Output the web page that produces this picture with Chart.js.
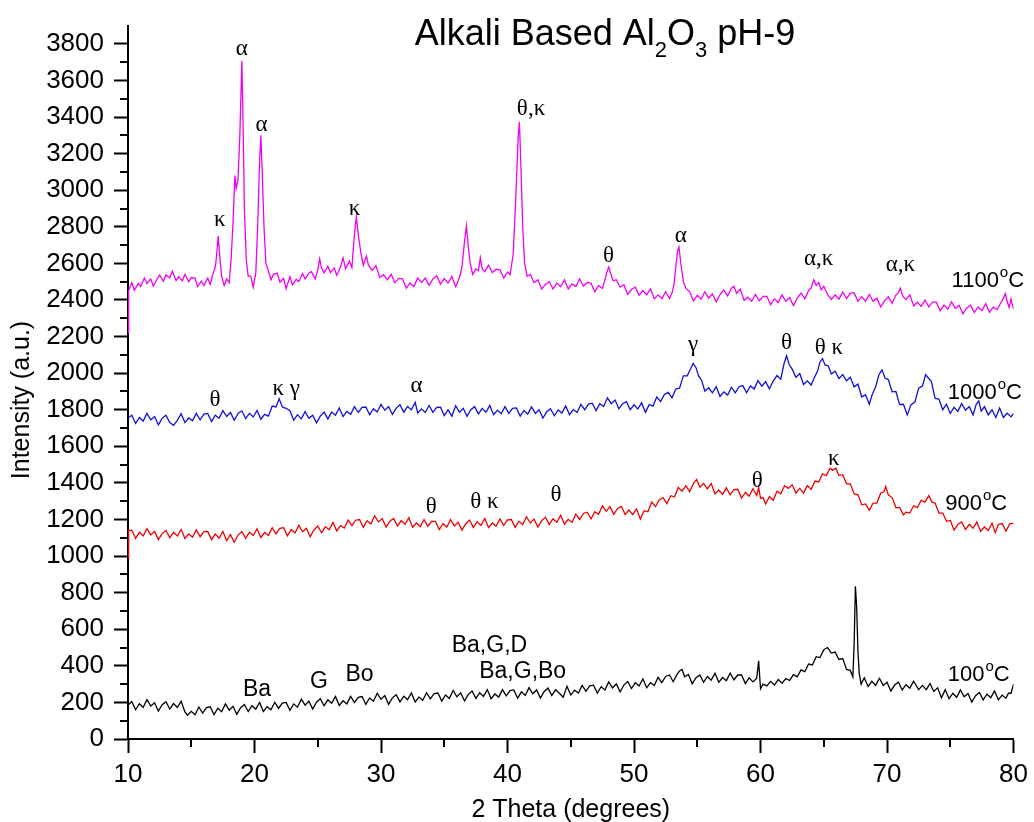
<!DOCTYPE html>
<html>
<head>
<meta charset="utf-8">
<title>Alkali Based Al2O3 pH-9</title>
<script src="https://cdn.jsdelivr.net/npm/chart.js@4.4.1/dist/chart.umd.min.js"></script>
<style>
  html, body { margin: 0; padding: 0; background: #fff; }
  #wrap { width: 1034px; height: 822px; }
</style>
</head>
<body>
<div id="wrap"><canvas id="xrd" width="1034" height="822"></canvas></div>
<script>
// XRD patterns, 2 theta (degrees) vs intensity (a.u.)

const xTicks = [10, 20, 30, 40, 50, 60, 70, 80];
const xMinorTicks = [15, 25, 35, 45, 55, 65, 75];
const yTicks = [0, 200, 400, 600, 800, 1000, 1200, 1400, 1600, 1800, 2000, 2200, 2400, 2600, 2800, 3000, 3200, 3400, 3600, 3800];
const yMinorTicks = [100, 300, 500, 700, 900, 1100, 1300, 1500, 1700, 1900, 2100, 2300, 2500, 2700, 2900, 3100, 3300, 3500, 3700];

const seriesLabels = ['1100', '1000', '900', '100'];
const seriesColors = ['#f000f0', '#1010d8', '#ee0000', '#000000'];

// [2 theta, intensity]
const pattern1100 = [
  [10.0, 2220], [10.05, 2450], [10.3, 2495], [10.5, 2453], [10.8, 2490], [11.0, 2473], [11.3, 2520], [11.5, 2490],
  [11.8, 2515], [12.0, 2475], [12.3, 2515], [12.5, 2537], [12.8, 2502], [13.0, 2537], [13.3, 2520], [13.5, 2558],
  [13.8, 2506], [14.0, 2528], [14.3, 2505], [14.5, 2540], [14.8, 2500], [15.0, 2523], [15.3, 2520], [15.5, 2473],
  [15.8, 2503], [16.0, 2480], [16.3, 2520], [16.5, 2485], [16.7, 2540], [16.9, 2580], [17.0, 2640], [17.13, 2750],
  [17.25, 2640], [17.4, 2530], [17.6, 2480], [17.8, 2515], [18.0, 2495], [18.15, 2620], [18.3, 2820], [18.45, 3080],
  [18.55, 3010], [18.7, 3060], [18.85, 3320], [19.0, 3707], [19.1, 3350], [19.2, 2900], [19.35, 2620], [19.5, 2530],
  [19.7, 2530], [19.9, 2470], [20.1, 2545], [20.25, 2800], [20.4, 3150], [20.5, 3300], [20.6, 3120], [20.75, 2800],
  [20.9, 2600], [21.1, 2560], [21.3, 2510], [21.5, 2540], [21.8, 2547], [22.0, 2497], [22.3, 2517], [22.5, 2462],
  [22.8, 2528], [23.0, 2483], [23.3, 2513], [23.5, 2500], [23.8, 2545], [24.0, 2515], [24.3, 2548], [24.5, 2555],
  [24.8, 2515], [25.0, 2563], [25.15, 2625], [25.3, 2575], [25.5, 2548], [25.8, 2585], [26.0, 2550], [26.3, 2575],
  [26.5, 2535], [26.8, 2580], [27.0, 2630], [27.2, 2570], [27.5, 2612], [27.7, 2577], [27.9, 2760], [28.05, 2855],
  [28.2, 2760], [28.4, 2660], [28.6, 2590], [28.85, 2640], [29.0, 2592], [29.3, 2562], [29.6, 2588], [29.9, 2523],
  [30.2, 2538], [30.5, 2510], [30.8, 2540], [31.1, 2495], [31.4, 2518], [31.7, 2515], [32.0, 2465], [32.3, 2493],
  [32.6, 2473], [32.9, 2520], [33.2, 2495], [33.5, 2520], [33.8, 2480], [34.1, 2515], [34.4, 2532], [34.7, 2487],
  [35.0, 2517], [35.3, 2492], [35.6, 2528], [35.9, 2473], [36.2, 2523], [36.4, 2580], [36.6, 2720], [36.75, 2805],
  [36.9, 2690], [37.05, 2600], [37.25, 2540], [37.5, 2570], [37.7, 2560], [37.85, 2630], [38.0, 2570], [38.2, 2555],
  [38.5, 2590], [38.8, 2550], [39.1, 2568], [39.4, 2565], [39.7, 2520], [40.0, 2553], [40.2, 2538], [40.45, 2650],
  [40.65, 2950], [40.85, 3300], [40.94, 3373], [41.05, 3150], [41.2, 2800], [41.35, 2600], [41.55, 2530], [41.8, 2540],
  [42.1, 2495], [42.4, 2510], [42.7, 2460], [43.0, 2485], [43.3, 2500], [43.6, 2460], [43.9, 2492], [44.2, 2472],
  [44.5, 2510], [44.8, 2460], [45.1, 2488], [45.4, 2473], [45.7, 2515], [46.0, 2475], [46.3, 2496], [46.6, 2492],
  [46.9, 2445], [47.2, 2478], [47.5, 2463], [47.7, 2510], [47.85, 2550], [48.0, 2580], [48.15, 2545], [48.35, 2505],
  [48.6, 2510], [48.9, 2470], [49.2, 2483], [49.5, 2430], [49.8, 2457], [50.1, 2470], [50.4, 2426], [50.7, 2452],
  [51.0, 2428], [51.3, 2460], [51.6, 2406], [51.9, 2428], [52.2, 2407], [52.5, 2445], [52.8, 2408], [53.0, 2438],
  [53.15, 2480], [53.3, 2580], [53.45, 2670], [53.55, 2690], [53.7, 2600], [53.9, 2500], [54.1, 2465], [54.4, 2445],
  [54.7, 2395], [55.0, 2426], [55.3, 2404], [55.6, 2445], [55.9, 2410], [56.2, 2433], [56.5, 2390], [56.8, 2430],
  [57.1, 2454], [57.4, 2422], [57.7, 2464], [57.9, 2475], [58.1, 2437], [58.4, 2460], [58.7, 2398], [59.0, 2415],
  [59.3, 2393], [59.6, 2430], [59.9, 2395], [60.2, 2420], [60.5, 2420], [60.8, 2375], [61.1, 2406], [61.4, 2386],
  [61.7, 2428], [62.0, 2393], [62.3, 2413], [62.6, 2370], [62.9, 2410], [63.2, 2437], [63.5, 2407], [63.8, 2452],
  [64.0, 2465], [64.2, 2510], [64.4, 2480], [64.6, 2495], [64.8, 2455], [65.0, 2475], [65.3, 2430], [65.6, 2403],
  [65.9, 2428], [66.2, 2405], [66.5, 2443], [66.8, 2408], [67.1, 2438], [67.4, 2440], [67.7, 2393], [68.0, 2418],
  [68.3, 2393], [68.6, 2430], [68.9, 2393], [69.2, 2410], [69.5, 2362], [69.8, 2395], [70.1, 2417], [70.4, 2382],
  [70.7, 2427], [70.9, 2440], [71.05, 2465], [71.25, 2420], [71.5, 2402], [71.8, 2428], [72.1, 2368], [72.4, 2388],
  [72.7, 2365], [73.0, 2400], [73.3, 2362], [73.6, 2388], [73.9, 2388], [74.2, 2341], [74.5, 2372], [74.8, 2350],
  [75.1, 2390], [75.4, 2353], [75.7, 2371], [76.0, 2324], [76.3, 2357], [76.6, 2372], [76.9, 2332], [77.2, 2362],
  [77.5, 2342], [77.8, 2380], [78.1, 2333], [78.4, 2361], [78.7, 2347], [79.0, 2385], [79.2, 2410], [79.35, 2435],
  [79.5, 2390], [79.65, 2360], [79.8, 2405], [80.0, 2350]
];

const pattern1000 = [
  [10.0, 1755], [10.3, 1770], [10.6, 1725], [10.9, 1758], [11.2, 1738], [11.5, 1780], [11.8, 1745], [12.1, 1763],
  [12.4, 1718], [12.7, 1753], [13.0, 1770], [13.3, 1730], [13.6, 1715], [13.9, 1742], [14.2, 1778], [14.5, 1730],
  [14.8, 1755], [15.1, 1740], [15.4, 1780], [15.7, 1745], [16.0, 1776], [16.3, 1780], [16.6, 1735], [16.9, 1770],
  [17.2, 1753], [17.5, 1795], [17.8, 1763], [18.1, 1785], [18.4, 1742], [18.7, 1780], [19.0, 1794], [19.3, 1752],
  [19.6, 1780], [19.9, 1760], [20.2, 1796], [20.5, 1748], [20.8, 1775], [21.1, 1765], [21.4, 1820], [21.7, 1815],
  [21.95, 1860], [22.2, 1815], [22.5, 1808], [22.8, 1795], [23.1, 1743], [23.4, 1773], [23.7, 1750], [24.0, 1790],
  [24.3, 1753], [24.6, 1770], [24.9, 1728], [25.2, 1765], [25.5, 1787], [25.8, 1750], [26.1, 1787], [26.4, 1770],
  [26.7, 1810], [27.0, 1763], [27.3, 1791], [27.6, 1775], [27.9, 1817], [28.2, 1785], [28.5, 1813], [28.8, 1815],
  [29.1, 1773], [29.4, 1806], [29.7, 1788], [30.0, 1830], [30.3, 1797], [30.6, 1817], [30.9, 1774], [31.2, 1809],
  [31.5, 1827], [31.8, 1787], [32.1, 1818], [32.4, 1800], [32.7, 1840], [32.9, 1783], [33.2, 1805], [33.5, 1785],
  [33.8, 1823], [34.1, 1786], [34.4, 1813], [34.7, 1814], [35.0, 1768], [35.3, 1800], [35.6, 1765], [35.9, 1822],
  [36.2, 1787], [36.5, 1808], [36.8, 1764], [37.1, 1800], [37.4, 1817], [37.7, 1777], [38.0, 1807], [38.3, 1787],
  [38.6, 1823], [38.9, 1773], [39.2, 1798], [39.5, 1778], [39.8, 1817], [40.1, 1780], [40.4, 1808], [40.7, 1810],
  [41.0, 1765], [41.3, 1796], [41.6, 1776], [41.9, 1816], [42.2, 1780], [42.5, 1800], [42.8, 1754], [43.1, 1789],
  [43.4, 1806], [43.7, 1767], [44.0, 1799], [44.3, 1782], [44.6, 1820], [44.9, 1773], [45.2, 1801], [45.5, 1785],
  [45.8, 1830], [46.1, 1800], [46.4, 1831], [46.7, 1836], [47.0, 1795], [47.3, 1833], [47.6, 1818], [47.9, 1865],
  [48.2, 1833], [48.5, 1853], [48.8, 1805], [49.1, 1833], [49.4, 1844], [49.7, 1800], [50.0, 1827], [50.3, 1804],
  [50.6, 1838], [50.9, 1786], [51.2, 1828], [51.5, 1820], [51.8, 1870], [52.1, 1845], [52.4, 1883], [52.7, 1895],
  [53.0, 1865], [53.3, 1913], [53.6, 1918], [53.9, 1985], [54.2, 1985], [54.45, 2020], [54.67, 2054], [54.9, 2030],
  [55.1, 1985], [55.35, 1960], [55.6, 1902], [55.9, 1920], [56.2, 1892], [56.5, 1926], [56.8, 1873], [57.1, 1898],
  [57.4, 1880], [57.7, 1923], [58.0, 1892], [58.3, 1926], [58.6, 1932], [58.9, 1893], [59.2, 1930], [59.5, 1914],
  [59.8, 1960], [60.1, 1929], [60.4, 1953], [60.7, 1914], [61.0, 1957], [61.3, 1987], [61.6, 1967], [61.85, 2050],
  [62.06, 2095], [62.25, 2050], [62.5, 2022], [62.8, 1977], [63.1, 1998], [63.4, 1938], [63.7, 1958], [64.0, 1935],
  [64.25, 1975], [64.5, 2010], [64.7, 2060], [64.9, 2080], [65.1, 2045], [65.35, 2040], [65.6, 1995], [65.9, 2010],
  [66.2, 1970], [66.5, 1992], [66.8, 1958], [67.1, 1978], [67.4, 1925], [67.7, 1940], [68.0, 1870], [68.3, 1882],
  [68.6, 1830], [68.8, 1878], [69.1, 1925], [69.35, 1990], [69.6, 2018], [69.85, 1972], [70.1, 1965], [70.4, 1898],
  [70.7, 1900], [71.0, 1828], [71.3, 1830], [71.6, 1772], [71.9, 1828], [72.2, 1842], [72.5, 1918], [72.8, 1930],
  [73.05, 1992], [73.25, 1975], [73.5, 1955], [73.8, 1862], [74.1, 1858], [74.4, 1800], [74.7, 1830], [75.0, 1780],
  [75.3, 1813], [75.6, 1791], [75.9, 1833], [76.2, 1797], [76.5, 1817], [76.8, 1772], [77.05, 1830], [77.25, 1848],
  [77.45, 1792], [77.7, 1817], [78.0, 1772], [78.3, 1800], [78.6, 1758], [78.9, 1810], [79.2, 1758], [79.5, 1781],
  [79.8, 1761], [80.0, 1780]
];

const pattern900 = [
  [10.0, 990], [10.05, 1140], [10.3, 1142], [10.6, 1097], [10.9, 1130], [11.2, 1110], [11.5, 1150], [11.8, 1115],
  [12.1, 1135], [12.4, 1090], [12.7, 1123], [13.0, 1140], [13.3, 1100], [13.6, 1130], [13.9, 1110], [14.2, 1146],
  [14.5, 1096], [14.8, 1121], [15.1, 1103], [15.4, 1143], [15.7, 1106], [16.0, 1134], [16.3, 1135], [16.6, 1090],
  [16.9, 1120], [17.2, 1098], [17.5, 1135], [17.8, 1085], [18.1, 1117], [18.4, 1075], [18.7, 1115], [19.0, 1134],
  [19.3, 1097], [19.6, 1130], [19.9, 1112], [20.2, 1150], [20.5, 1102], [20.8, 1129], [21.1, 1113], [21.4, 1155],
  [21.7, 1122], [22.0, 1152], [22.3, 1155], [22.6, 1111], [22.9, 1145], [23.2, 1126], [23.5, 1168], [23.8, 1133],
  [24.1, 1152], [24.4, 1106], [24.7, 1143], [25.0, 1164], [25.3, 1127], [25.6, 1160], [25.9, 1144], [26.2, 1184],
  [26.5, 1138], [26.8, 1167], [27.1, 1153], [27.4, 1197], [27.7, 1166], [28.0, 1196], [28.3, 1200], [28.6, 1157],
  [28.9, 1193], [29.2, 1176], [29.5, 1220], [29.8, 1187], [30.1, 1205], [30.4, 1158], [30.7, 1190], [31.0, 1205],
  [31.3, 1164], [31.6, 1194], [31.9, 1174], [32.2, 1210], [32.5, 1158], [32.8, 1181], [33.1, 1161], [33.4, 1200],
  [33.7, 1163], [34.0, 1190], [34.3, 1190], [34.6, 1145], [34.9, 1178], [35.2, 1158], [35.5, 1200], [35.8, 1165],
  [36.1, 1185], [36.4, 1142], [36.7, 1177], [37.0, 1197], [37.3, 1157], [37.6, 1188], [37.9, 1168], [38.2, 1206],
  [38.5, 1156], [38.8, 1181], [39.1, 1163], [39.4, 1203], [39.7, 1168], [40.0, 1198], [40.3, 1200], [40.6, 1157],
  [40.9, 1191], [41.2, 1172], [41.5, 1215], [41.8, 1181], [42.1, 1202], [42.4, 1158], [42.7, 1194], [43.0, 1212],
  [43.3, 1173], [43.6, 1204], [43.9, 1185], [44.2, 1223], [44.5, 1174], [44.8, 1201], [45.1, 1185], [45.4, 1230],
  [45.7, 1200], [46.0, 1233], [46.3, 1240], [46.6, 1203], [46.9, 1242], [47.2, 1228], [47.5, 1275], [47.8, 1245],
  [48.1, 1270], [48.4, 1228], [48.7, 1260], [49.0, 1272], [49.3, 1227], [49.6, 1252], [49.9, 1227], [50.2, 1258],
  [50.5, 1203], [50.8, 1248], [51.1, 1243], [51.4, 1295], [51.7, 1270], [52.0, 1308], [52.3, 1320], [52.6, 1287],
  [52.9, 1330], [53.2, 1323], [53.5, 1375], [53.8, 1355], [54.1, 1385], [54.4, 1352], [54.7, 1397], [54.95, 1418],
  [55.2, 1377], [55.5, 1397], [55.8, 1367], [56.1, 1396], [56.4, 1340], [56.7, 1361], [57.0, 1337], [57.3, 1373],
  [57.6, 1335], [57.9, 1363], [58.2, 1365], [58.5, 1317], [58.8, 1348], [59.1, 1328], [59.4, 1368], [59.7, 1331],
  [59.85, 1375], [60.0, 1315], [60.2, 1320], [60.4, 1285], [60.7, 1325], [61.0, 1305], [61.3, 1355], [61.6, 1340],
  [61.9, 1385], [62.2, 1370], [62.5, 1390], [62.8, 1345], [63.1, 1370], [63.4, 1345], [63.7, 1385], [64.0, 1365],
  [64.3, 1410], [64.6, 1405], [64.9, 1450], [65.2, 1440], [65.5, 1480], [65.7, 1470], [65.95, 1480], [66.2, 1440],
  [66.5, 1445], [66.8, 1395], [67.1, 1395], [67.4, 1340], [67.7, 1335], [68.0, 1280], [68.3, 1285], [68.6, 1250],
  [68.9, 1290], [69.2, 1290], [69.5, 1345], [69.75, 1350], [69.9, 1380], [70.1, 1335], [70.4, 1320], [70.7, 1265],
  [71.0, 1265], [71.3, 1225], [71.5, 1240], [71.8, 1235], [72.1, 1275], [72.4, 1265], [72.7, 1305], [73.0, 1295],
  [73.3, 1330], [73.55, 1295], [73.8, 1290], [74.1, 1235], [74.4, 1235], [74.7, 1190], [75.0, 1195], [75.3, 1142],
  [75.6, 1173], [75.9, 1187], [76.2, 1145], [76.5, 1174], [76.8, 1152], [77.1, 1186], [77.4, 1135], [77.7, 1159],
  [78.0, 1140], [78.3, 1180], [78.55, 1128], [78.8, 1173], [79.1, 1178], [79.4, 1137], [79.7, 1176], [80.0, 1180]
];

const pattern100 = [
  [10.0, 185], [10.3, 205], [10.6, 160], [10.9, 193], [11.2, 173], [11.5, 215], [11.8, 180], [12.1, 198],
  [12.4, 152], [12.7, 187], [13.0, 204], [13.3, 164], [13.6, 194], [13.9, 172], [14.2, 206], [14.5, 148],
  [14.7, 130], [15.0, 151], [15.3, 133], [15.6, 175], [15.9, 142], [16.2, 172], [16.5, 176], [16.8, 133],
  [17.1, 168], [17.4, 149], [17.7, 192], [18.0, 158], [18.3, 179], [18.6, 135], [18.9, 171], [19.2, 189],
  [19.5, 150], [19.8, 182], [20.1, 163], [20.4, 200], [20.7, 151], [21.0, 177], [21.3, 160], [21.6, 201],
  [21.9, 167], [22.2, 196], [22.5, 200], [22.8, 157], [23.1, 192], [23.4, 174], [23.7, 218], [24.0, 185],
  [24.3, 207], [24.6, 164], [24.9, 201], [25.2, 220], [25.5, 182], [25.8, 214], [26.1, 195], [26.4, 232],
  [26.7, 183], [27.0, 209], [27.3, 192], [27.6, 233], [27.9, 199], [28.2, 228], [28.5, 232], [28.8, 189],
  [29.1, 224], [29.4, 206], [29.7, 250], [30.0, 217], [30.3, 237], [30.6, 190], [30.9, 225], [31.2, 242],
  [31.5, 203], [31.8, 234], [32.1, 215], [32.4, 252], [32.7, 203], [33.0, 229], [33.3, 212], [33.6, 253],
  [33.9, 219], [34.2, 248], [34.5, 251], [34.8, 207], [35.1, 241], [35.4, 222], [35.7, 265], [36.0, 231],
  [36.3, 252], [36.6, 208], [36.9, 244], [37.2, 262], [37.5, 222], [37.8, 253], [38.1, 233], [38.4, 270],
  [38.7, 220], [39.0, 246], [39.3, 229], [39.6, 270], [39.9, 236], [40.2, 265], [40.5, 268], [40.8, 224],
  [41.1, 258], [41.4, 238], [41.7, 281], [42.0, 247], [42.3, 268], [42.6, 224], [42.9, 260], [43.2, 278],
  [43.5, 238], [43.8, 269], [44.1, 250], [44.4, 228], [44.7, 288], [45.0, 240], [45.3, 267], [45.6, 251],
  [45.9, 293], [46.2, 260], [46.5, 290], [46.8, 294], [47.1, 251], [47.4, 286], [47.7, 268], [48.0, 312],
  [48.3, 279], [48.6, 301], [48.9, 258], [49.2, 295], [49.5, 314], [49.8, 276], [50.1, 308], [50.4, 290],
  [50.7, 328], [51.0, 280], [51.3, 308], [51.6, 293], [51.9, 337], [52.2, 308], [52.5, 342], [52.8, 350],
  [53.1, 313], [53.4, 353], [53.6, 372], [53.8, 380], [54.0, 340], [54.3, 353], [54.6, 302], [54.9, 335],
  [55.2, 350], [55.5, 310], [55.8, 342], [56.1, 322], [56.4, 360], [56.7, 310], [57.0, 336], [57.3, 319],
  [57.6, 360], [57.9, 324], [58.2, 350], [58.5, 350], [58.8, 303], [59.1, 334], [59.4, 312], [59.7, 332],
  [59.85, 428], [60.0, 275], [60.2, 300], [60.5, 290], [60.8, 315], [61.1, 295], [61.4, 325], [61.7, 305],
  [62.0, 330], [62.3, 320], [62.6, 352], [62.9, 340], [63.2, 378], [63.5, 368], [63.8, 410], [64.1, 405],
  [64.4, 450], [64.7, 445], [65.0, 488], [65.3, 500], [65.6, 470], [65.9, 475], [66.2, 435], [66.5, 440],
  [66.8, 380], [67.1, 375], [67.3, 340], [67.4, 520], [67.5, 835], [67.6, 720], [67.7, 480], [67.8, 360],
  [67.95, 300], [68.2, 335], [68.5, 287], [68.8, 316], [69.1, 293], [69.4, 332], [69.7, 293], [70.0, 310],
  [70.3, 262], [70.6, 295], [70.9, 310], [71.2, 268], [71.5, 297], [71.8, 278], [72.1, 316], [72.5, 270],
  [72.8, 293], [73.1, 270], [73.4, 303], [73.7, 260], [74.0, 280], [74.3, 225], [74.6, 270], [74.9, 220],
  [75.2, 250], [75.5, 228], [75.8, 268], [76.1, 231], [76.4, 249], [76.7, 202], [77.0, 237], [77.3, 254],
  [77.6, 214], [77.9, 245], [78.2, 226], [78.5, 263], [78.8, 214], [79.1, 240], [79.4, 223], [79.6, 250],
  [79.8, 250], [80.0, 300]
];

const patterns = [pattern1100, pattern1000, pattern900, pattern100];

// phase labels: text, 2 theta, intensity
const peakLabels = [
  ['α', 19.0, 3771], ['κ', 17.26, 2840], ['α', 20.55, 3355], ['κ', 27.9, 2900],
  ['θ,κ', 41.86, 3447], ['θ', 47.98, 2641], ['α', 53.7, 2750], ['α,κ', 64.6, 2623], ['α,κ', 71.06, 2593],
  ['θ', 16.87, 1855], ['κ γ', 22.5, 1913], ['α', 32.8, 1928], ['γ', 54.67, 2153], ['θ', 62.06, 2163], ['θ κ', 65.4, 2136],
  ['θ', 33.97, 1268], ['θ κ', 38.17, 1295], ['θ', 43.83, 1332], ['θ', 59.74, 1413], ['κ', 65.8, 1530],
  ['Ba', 20.2, 269], ['G', 25.1, 311], ['Bo', 28.3, 352], ['Ba,G,D', 38.57, 509], ['Ba,G,Bo', 41.2, 370]
];

// temperature labels: 2 theta of left edge, intensity of middle
const tempAngles = [75.1, 74.8, 74.6, 74.8];
const tempIntensities = [2515, 1902, 1295, 363];

const SANS = '"Liberation Sans", Arial, Helvetica, sans-serif';
const SERIF = '"Liberation Serif", "Times New Roman", serif';

Chart.defaults.font.family = SANS;
Chart.defaults.color = '#000';

// minor ticks, titles and labels
const decorations = {
  id: 'decorations',
  afterDraw(chart) {
    const ctx = chart.ctx;
    const xs = chart.scales.x;
    const ys = chart.scales.y;
    const area = chart.chartArea;
    ctx.save();

    // minor ticks
    ctx.strokeStyle = '#000';
    ctx.lineWidth = 2;
    ctx.beginPath();
    yMinorTicks.forEach(v => {
      const py = Math.round(ys.getPixelForValue(v));
      ctx.moveTo(area.left - 8, py);
      ctx.lineTo(area.left, py);
    });
    xMinorTicks.forEach(v => {
      const px = Math.round(xs.getPixelForValue(v));
      ctx.moveTo(px, area.bottom);
      ctx.lineTo(px, area.bottom + 8);
    });
    ctx.stroke();

    ctx.fillStyle = '#000';

    // phase labels
    ctx.textAlign = 'center';
    ctx.textBaseline = 'middle';
    peakLabels.forEach(([t, a, v]) => {
      ctx.font = /[α-ω]/.test(t) ? '23px ' + SERIF : '23px ' + SANS;
      ctx.fillText(t, xs.getPixelForValue(a), ys.getPixelForValue(v));
    });

    // temperature labels with superscript o
    ctx.textAlign = 'left';
    ctx.textBaseline = 'alphabetic';
    seriesLabels.forEach((t, i) => {
      let px = xs.getPixelForValue(tempAngles[i]);
      const base = ys.getPixelForValue(tempIntensities[i]) + 8;
      ctx.font = '22px ' + SANS;
      ctx.fillText(t, px, base);
      px += ctx.measureText(t).width + 1;
      ctx.font = '15px ' + SANS;
      ctx.fillText('o', px, base - 10);
      px += ctx.measureText('o').width;
      ctx.font = '22px ' + SANS;
      ctx.fillText('C', px, base);
    });

    // chart title with subscripts
    const parts = [['Alkali Based Al', 0], ['2', 1], ['O', 0], ['3', 1], [' pH-9', 0]];
    const big = '36px ' + SANS;
    const small = '22px ' + SANS;
    let total = 0;
    parts.forEach(([t, sub]) => { ctx.font = sub ? small : big; total += ctx.measureText(t).width; });
    let tx = 605 - total / 2;
    parts.forEach(([t, sub]) => {
      ctx.font = sub ? small : big;
      ctx.fillText(t, tx, sub ? 57 : 45);
      tx += ctx.measureText(t).width;
    });

    // axis titles
    ctx.font = '25px ' + SANS;
    ctx.textAlign = 'center';
    ctx.fillText('2 Theta (degrees)', (area.left + area.right) / 2, 817);
    ctx.translate(22, 400);
    ctx.rotate(-Math.PI / 2);
    ctx.textBaseline = 'middle';
    ctx.fillText('Intensity (a.u.)', 0, 0);

    ctx.restore();
  }
};

const ctx = document.getElementById('xrd').getContext('2d');
const datasets = patterns.map((p, i) => ({
  label: seriesLabels[i] + '°C',
  data: p.map(([a, v]) => ({ x: a, y: v })),
  borderColor: seriesColors[i],
  borderWidth: 1.3,
  pointRadius: 0,
  fill: false,
  tension: 0
}));

new Chart(ctx, {
  type: 'line',
  data: { datasets: datasets },
  options: {
    responsive: false,
    animation: false,
    layout: { padding: { top: 20, right: 19, left: 0, bottom: 0 } },
    plugins: {
      legend: { display: false },
      title: { display: false },
      tooltip: { enabled: false }
    },
    scales: {
      x: {
        type: 'linear',
        min: 10,
        max: 80,
        afterBuildTicks: scale => { scale.ticks = xTicks.map(v => ({ value: v })); },
        afterFit: scale => { scale.height = 83; },
        ticks: { font: { size: 26 }, padding: 6, maxRotation: 0, callback: v => String(v) },
        grid: { drawOnChartArea: false, drawTicks: true, tickLength: 14, tickColor: '#000', tickWidth: 2 },
        border: { color: '#000', width: 2 }
      },
      y: {
        type: 'linear',
        min: 0,
        max: 3900,
        afterBuildTicks: scale => { scale.ticks = yTicks.map(v => ({ value: v })); },
        afterFit: scale => { scale.width = 128; },
        ticks: { font: { size: 26 }, padding: 10, callback: v => String(v) },
        grid: { drawOnChartArea: false, drawTicks: true, tickLength: 14, tickColor: '#000', tickWidth: 2 },
        border: { color: '#000', width: 2 }
      }
    }
  },
  plugins: [decorations]
});
</script>
</body>
</html>
